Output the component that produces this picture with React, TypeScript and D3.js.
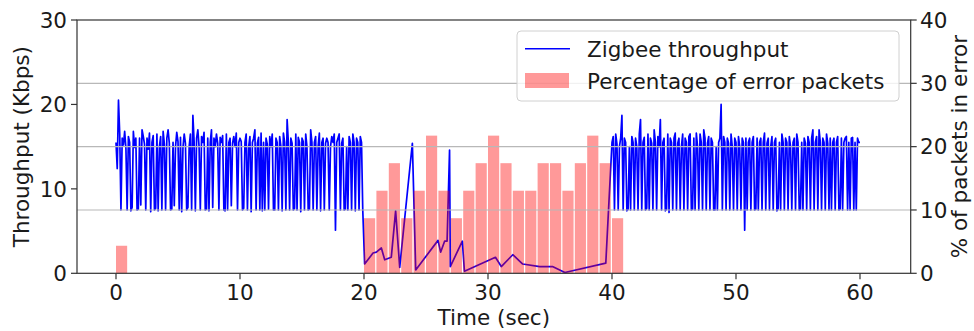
import React from "react";
import * as d3 from "d3";

// throughput samples every 0.1 s, 0.0 - 19.9 s (Kbps)
const throughputA: number[] = [
  15.5, 12.4, 20.5, 16.5, 7.5, 16, 15.2, 16.8, 14.8, 7.5,
  16.2, 15.5, 7.4, 7.8, 16.8, 14.9, 16, 7.5, 7.6, 16,
  8.1, 17, 16.2, 15.3, 7.5, 16, 14.7, 16.6, 7.3, 15.5,
  16.3, 7.5, 7.7, 16.5, 7.4, 15, 16.2, 7.5, 16.8, 15.3,
  7.5, 16, 17, 15.4, 7.5, 7.6, 15.5, 8, 15, 16.7,
  15.6, 7.5, 16.1, 7.3, 14.9, 16.5, 15.4, 7.5, 7.8, 15,
  16.5, 7.5, 18.7, 15.6, 7.4, 16, 17, 15, 7.5, 16.2,
  15.5, 16.7, 7.5, 7.6, 16, 7.4, 15.5, 17, 7.8, 16,
  15, 16.5, 15.4, 7.5, 16.1, 15.5, 16.3, 7.5, 7.4, 16.5,
  7.5, 15.5, 16, 8, 15.4, 16.2, 15, 16.6, 7.5, 15.5,
  16, 15.6, 7.5, 7.7, 15.5, 16.5, 7.5, 15, 16.2, 7.3,
  15.5, 16, 17, 7.5, 15.4, 16.1, 7.5, 16.6, 7.4, 15.5,
  7.5, 16, 15.3, 7.6, 16.2, 15, 16.5, 7.5, 7.5, 16,
  15.5, 7.5, 16.2, 15, 7.4, 16.6, 15.5, 7.5, 18.2, 15.5,
  7.5, 16, 15.4, 7.5, 7.7, 16.5, 7.5, 16.1, 15.5, 7.3,
  16, 15.6, 7.5, 16.5, 15, 7.5, 7.6, 17, 15.5, 7.5,
  15.5, 16.2, 7.5, 15, 16.6, 7.4, 15.5, 16, 7.5, 15.4,
  16, 15.5, 7.5, 15, 16.2, 15.5, 16.5, 5.1, 15.5, 16,
  16.5, 7.5, 15.4, 16, 7.5, 7.6, 15, 7.5, 16.2, 15.5,
  7.5, 16.5, 15.5, 7.4, 16, 15.5, 7.5, 16.2, 15.5, 7.5,
];

// sparse samples during the interference period
const throughputMidTime: number[] = [
  20.05, 20.73, 21.0, 21.4, 21.67, 22.2, 22.55, 22.88, 23.9, 24.17,
  25.97, 26.18, 26.5, 26.7, 26.9, 26.96, 27.93, 28.1, 30.6, 31.07,
  32.0, 32.8, 34.17, 35.2, 36.2, 39.5,
];
const throughputMidValue: number[] = [
  1.1, 2.4, 2.5, 3.0, 1.6, 1.9, 7.4, 0.7, 15.4, 0.4,
  3.9, 2.5, 3.8, 3.8, 14.6, 0.8, 3.8, 0.24, 1.9, 0.8,
  2.2, 1.1, 0.8, 0.8, 0.1, 1.2,
];

// throughput samples every 0.1 s, 40.0 - 60.0 s (Kbps)
const throughputB: number[] = [
  15.5, 16.2, 7.5, 16.5, 15.3, 7.5, 15, 16, 18.7, 7.5,
  16, 15.5, 7.4, 7.6, 15, 7.5, 16.2, 15.5, 7.5, 16,
  15, 7.5, 16.5, 18.2, 7.5, 15.5, 16.1, 7.5, 7.7, 16.5,
  7.5, 16, 15.4, 7.5, 17, 15.5, 7.5, 16.2, 15, 18.2,
  7.5, 15.5, 16, 7.4, 7.6, 16.5, 7.2, 16, 15.5, 7.5,
  16, 16.6, 7.5, 15.4, 16, 7.5, 15, 16.5, 7.5, 16,
  15.5, 7.5, 16.2, 16.5, 7.5, 7.6, 16, 7.5, 16.6, 15,
  7.5, 16.5, 15.5, 7.5, 17, 16, 7.5, 15.4, 16.2, 7.5,
  16, 15.5, 7.5, 7.5, 15, 7.5, 15.5, 16, 20, 7.5,
  16.2, 15.5, 7.5, 16, 15.4, 7.5, 16.5, 15, 7.5, 16,
  15.5, 7.5, 16.2, 15, 7.5, 16, 15.5, 5.1, 16, 7.5,
  15.5, 16, 7.5, 15.5, 16.2, 7.5, 7.6, 16, 7.5, 15.5,
  16, 7.5, 15.5, 16.6, 7.5, 15.4, 16, 7.5, 15, 16.2,
  7.5, 15.5, 16, 7.4, 7.7, 15.5, 7.5, 16.5, 15.5, 7.5,
  16, 15.5, 7.5, 16.2, 15, 7.5, 15.5, 16, 7.5, 16.5,
  15.5, 7.5, 7.6, 15.5, 7.5, 16, 15.4, 7.5, 16.2, 15.5,
  7.5, 16, 17, 7.5, 15.5, 16.2, 7.5, 17, 15.5, 7.5,
  16, 15.5, 7.5, 16.5, 15.4, 7.5, 16, 7.5, 15.5, 16,
  7.5, 15.5, 16.2, 7.5, 7.6, 16, 7.5, 15.5, 16, 16.2,
  7.5, 15.5, 7.5, 16, 16.1, 7.5, 15.5, 7.5, 16, 15.5,
  15.5,
];

// percentage of error packets per second, 0 - 40 s
const errorPct: number[] = [
  4.35, 0, 0, 0, 0, 0, 0, 0, 0, 0,
  0, 0, 0, 0, 0, 0, 0, 0, 0, 0,
  8.7, 13.04, 17.39, 8.7, 13.04, 21.74, 13.04, 8.7, 13.04, 17.39,
  21.74, 17.39, 13.04, 13.04, 17.39, 17.39, 13.04, 17.39, 21.74, 17.39,
  8.7,
];

const xTicks = [0, 10, 20, 30, 40, 50, 60];
const leftTicks = [0, 10, 20, 30];
const rightTicks = [0, 10, 20, 30, 40];

const W = 974;
const H = 331;
const left = 77;
const right = 910.7;
const top = 20;
const bottom = 273.3;
const font = "DejaVu Sans, sans-serif";
const fs = 21.5;
const ink = "#1a1a1a";

export default function App() {
  const x = d3.scaleLinear().domain([0, 60]).range([116, 860]);
  const yL = d3.scaleLinear().domain([0, 30]).range([bottom, top]);
  const yR = d3.scaleLinear().domain([0, 40]).range([bottom, top]);

  const pts: [number, number][] = [];
  throughputA.forEach((v, i) => pts.push([i / 10, v]));
  throughputMidTime.forEach((t, i) => pts.push([t, throughputMidValue[i]]));
  throughputB.forEach((v, i) => pts.push([40 + i / 10, v]));

  const line = d3
    .line<[number, number]>()
    .x((d) => x(d[0]))
    .y((d) => yL(d[1]));

  const barW = x(0.9) - x(0);

  return (
    <svg
      width={W}
      height={H}
      style={{ position: "absolute", left: 0, top: 0, background: "#fff" }}
      fontFamily={font}
    >
      <path d={line(pts) ?? ""} fill="none" stroke="#0000ff" strokeWidth={1.7} strokeLinejoin="round" />

      {errorPct.map((p, i) =>
        p > 0 ? (
          <rect
            key={i}
            x={x(i)}
            y={yR(p)}
            width={barW}
            height={yR(0) - yR(p)}
            fill="#ff0000"
            fillOpacity={0.4}
          />
        ) : null
      )}

      {rightTicks
        .filter((t) => t > 0 && t < 40)
        .map((t) => (
          <line key={t} x1={left} x2={right} y1={yR(t)} y2={yR(t)} stroke="#b8b8b8" strokeWidth={1.2} />
        ))}

      {/* frame */}
      <rect x={left} y={top} width={right - left} height={bottom - top} fill="none" stroke="#333" strokeWidth={1.2} />

      {/* x axis */}
      {xTicks.map((t) => (
        <g key={t}>
          <line x1={x(t)} x2={x(t)} y1={bottom} y2={bottom + 6} stroke="#333" strokeWidth={1.2} />
          <text x={x(t)} y={299.5} textAnchor="middle" fontSize={fs} fill={ink}>
            {t}
          </text>
        </g>
      ))}
      <text x={(left + right) / 2} y={325} textAnchor="middle" fontSize={fs} fill={ink}>
        Time (sec)
      </text>

      {/* left axis */}
      {leftTicks.map((t) => (
        <g key={t}>
          <line x1={left - 6} x2={left} y1={yL(t)} y2={yL(t)} stroke="#333" strokeWidth={1.2} />
          <text x={67} y={yL(t) + 7.8} textAnchor="end" fontSize={fs} fill={ink}>
            {t}
          </text>
        </g>
      ))}
      <text transform={`translate(29, ${(top + bottom) / 2}) rotate(-90)`} textAnchor="middle" fontSize={fs} fill={ink}>
        Throughput (Kbps)
      </text>

      {/* right axis */}
      {rightTicks.map((t) => (
        <g key={t}>
          <line x1={right} x2={right + 6} y1={yR(t)} y2={yR(t)} stroke="#333" strokeWidth={1.2} />
          <text x={920} y={yR(t) + 7.8} textAnchor="start" fontSize={fs} fill={ink}>
            {t}
          </text>
        </g>
      ))}
      <text transform={`translate(967, ${(top + bottom) / 2}) rotate(-90)`} textAnchor="middle" fontSize={fs} fill={ink}>
        % of packets in error
      </text>

      {/* legend */}
      <rect x={517} y={31} width={382} height={70} rx={4} fill="#fff" fillOpacity={0.8} stroke="#d0d0d0" strokeWidth={1} />
      <line x1={525} x2={570} y1={48.7} y2={48.7} stroke="#0000ff" strokeWidth={1.6} />
      <text x={587} y={56.7} fontSize={fs} fill={ink}>
        Zigbee throughput
      </text>
      <rect x={525} y={73} width={44} height={15} fill="#ff0000" fillOpacity={0.4} />
      <text x={587} y={89.3} fontSize={fs} fill={ink}>
        Percentage of error packets
      </text>
    </svg>
  );
}
